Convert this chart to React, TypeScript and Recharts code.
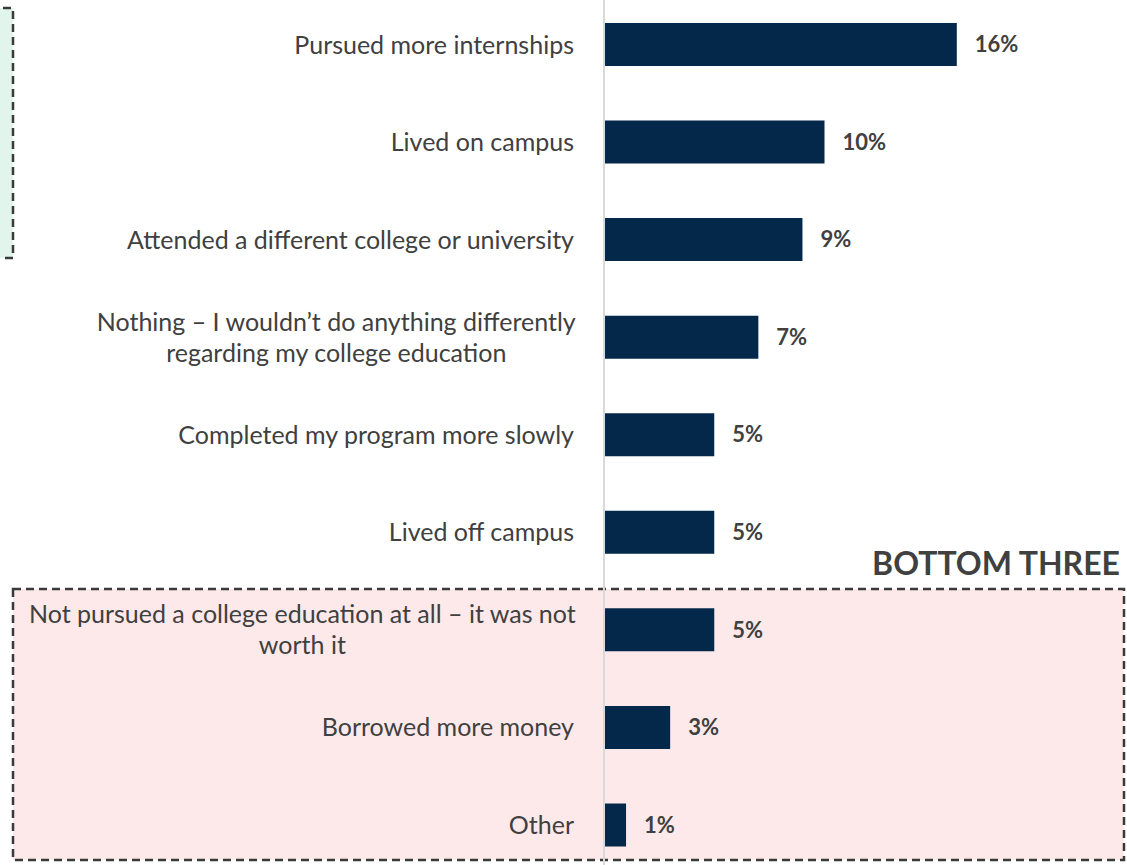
import { BarChart, Bar, XAxis, YAxis, LabelList } from "recharts";

const categories = [
  "Pursued more internships",
  "Lived on campus",
  "Attended a different college or university",
  "Nothing – I wouldn’t do anything differently\nregarding my college education",
  "Completed my program more slowly",
  "Lived off campus",
  "Not pursued a college education at all – it was not\nworth it",
  "Borrowed more money",
  "Other",
];
const values = [16, 10, 9, 7, 5, 5, 5, 3, 1];

const data = categories.map((label, i) => ({ label, value: values[i] }));

const FONT = "Lato, 'Open Sans', sans-serif";
const TEXT = "#404040";
const LABEL_SIZE = 25;

let ctx: CanvasRenderingContext2D | null = null;
function measure(s: string) {
  if (!ctx) ctx = document.createElement("canvas").getContext("2d");
  if (!ctx) return s.length * LABEL_SIZE * 0.5;
  ctx.font = `${LABEL_SIZE}px Lato`;
  return ctx.measureText(s).width;
}

function CategoryTick(props: any) {
  const { y, payload } = props;
  const lines: string[] = String(payload.value).split("\n");
  const right = 574;
  if (lines.length === 1) {
    return (
      <text x={right} y={y} dy="0.35em" textAnchor="end" fill={TEXT} fontSize={LABEL_SIZE} fontFamily={FONT}>
        {lines[0]}
      </text>
    );
  }
  const maxW = Math.max(...lines.map(measure));
  const cx = right + 2 - maxW / 2;
  const lh = 31;
  const start = y - ((lines.length - 1) * lh) / 2;
  return (
    <text textAnchor="middle" fill={TEXT} fontSize={LABEL_SIZE} fontFamily={FONT}>
      {lines.map((l, i) => (
        <tspan key={i} x={cx} y={start + i * lh} dy="0.35em">
          {l}
        </tspan>
      ))}
    </text>
  );
}

function ValueLabel(props: any) {
  const { x, y, width, height, value } = props;
  return (
    <text
      x={x + width + 18}
      y={y + height / 2}
      dy="0.35em"
      fill={TEXT}
      fontSize={22}
      fontWeight="bold"
      fontFamily={FONT}
    >
      {value}%
    </text>
  );
}

export default function App() {
  return (
    <div style={{ position: "fixed", left: 0, top: 0, width: 1127, height: 865, overflow: "hidden", background: "#fff" }}>
      <svg width={1127} height={865} style={{ position: "absolute", left: 0, top: 0 }}>
        <rect x={-10} y={8} width={23} height={250} fill="#e2f5ec" stroke="#3a3a3a" strokeWidth={2.5} strokeDasharray="8 5" />
        <rect x={13} y={589} width={1111} height={271} fill="#fde9e9" stroke="#3a3a3a" strokeWidth={2.5} strokeDasharray="8 5" />
        <text x={1120} y={575} textAnchor="end" fill={TEXT} fontSize={32} fontWeight="bold" fontFamily={FONT}>
          BOTTOM THREE
        </text>
      </svg>
      <div style={{ position: "absolute", left: 0, top: -4 }}>
        <BarChart
          width={1127}
          height={878}
          data={data}
          layout="vertical"
          margin={{ top: 0, right: 82, bottom: 0, left: 0 }}
        >
          <XAxis type="number" domain={[0, 20]} hide />
          <YAxis
            type="category"
            dataKey="label"
            width={604}
            axisLine={{ stroke: "#d9d9d9", strokeWidth: 2 }}
            tickLine={false}
            tick={<CategoryTick />}
            interval={0}
          />
          <Bar dataKey="value" fill="#03284a" barSize={43} isAnimationActive={false}>
            <LabelList dataKey="value" content={<ValueLabel />} />
          </Bar>
        </BarChart>
      </div>
    </div>
  );
}
